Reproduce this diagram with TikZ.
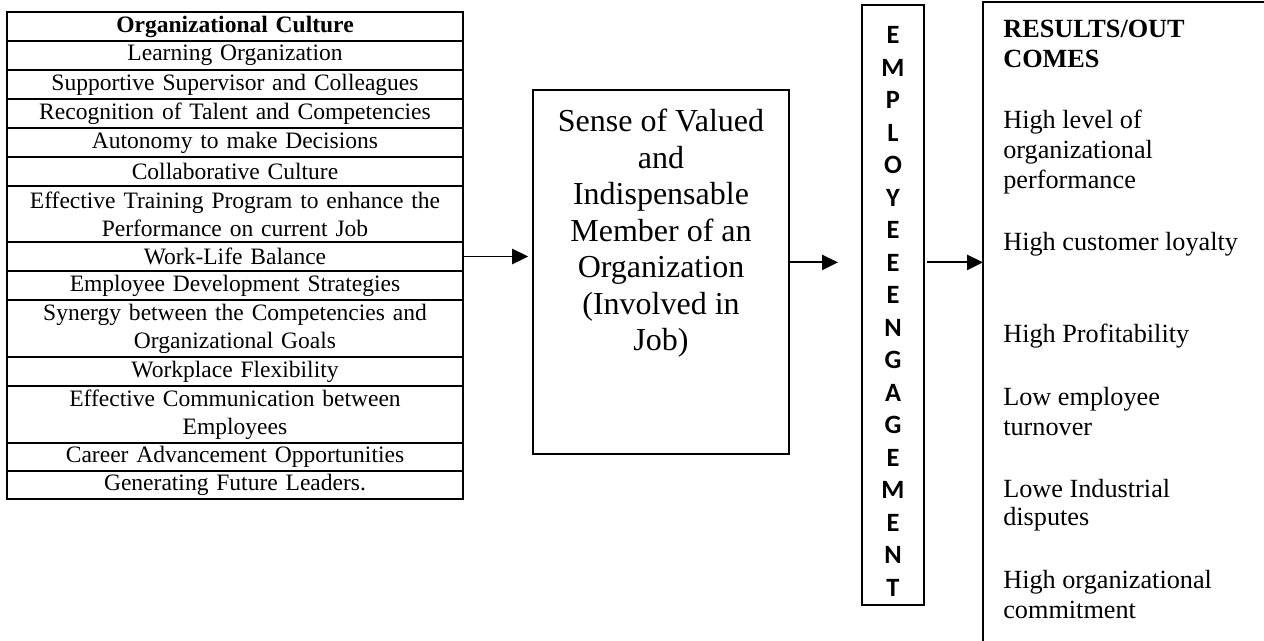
\documentclass[tikz,border=0pt]{standalone}
\usepackage{fontspec}
\setmainfont{Liberation Serif}
\newfontfamily\letterfont{Carlito}
\usetikzlibrary{positioning, arrows.meta}
\newlength\pxu
\setlength\pxu{0.625pt}

\begin{document}
\begin{tikzpicture}[
        % one unit is one pixel of the layout
        x=\pxu, y=-\pxu,
        % Define styles for the nodes
        cell/.style={draw, line width=1pt, outer sep=0pt, inner xsep=2pt, inner ysep=0pt, text width=281pt, align=center, font=\fontsize{14.7}{17.5}\selectfont},
        one_row/.style={cell, minimum height=29\pxu},
        two_row/.style={cell, minimum height=56\pxu},
        frame_box/.style={draw, line width=1.2pt, outer sep=0pt, inner sep=0pt},
        letter/.style={inner sep=0pt, font=\letterfont\bfseries\fontsize{16.5}{19}\selectfont},
        out_text/.style={anchor=base west, inner sep=0pt, font=\fontsize{16.4}{18.4}\selectfont},
        arrow/.style={-{Triangle[length=10pt, width=9.5pt]}, line width=1.2pt}
    ]

    \clip (0,0) rectangle (1264,640);

    % Organizational culture table
    \node (culture) [one_row, anchor=north west, font=\bfseries\fontsize{14.7}{17.5}\selectfont] at (7,12) {Organizational Culture};
    \node (learning) [one_row, below=0pt of culture] {Learning Organization};
    \node (support) [one_row, below=0pt of learning] {Supportive Supervisor and Colleagues};
    \node (talent) [one_row, below=0pt of support] {Recognition of Talent and Competencies};
    \node (autonomy) [one_row, below=0pt of talent] {Autonomy to make Decisions};
    \node (collab) [one_row, below=0pt of autonomy] {Collaborative Culture};
    \node (training) [two_row, below=0pt of collab] {Effective Training Program to enhance the\\Performance on current Job};
    \node (worklife) [one_row, below=0pt of training] {Work-Life Balance};
    \node (develop) [one_row, below=0pt of worklife] {Employee Development Strategies};
    \node (synergy) [two_row, minimum height=57\pxu, below=0pt of develop] {Synergy between the Competencies and\\Organizational Goals};
    \node (flexible) [one_row, below=0pt of synergy] {Workplace Flexibility};
    \node (communic) [two_row, minimum height=57\pxu, below=0pt of flexible] {Effective Communication between\\Employees};
    \node (career) [one_row, minimum height=28\pxu, below=0pt of communic] {Career Advancement Opportunities};
    \node (leaders) [one_row, minimum height=28\pxu, below=0pt of career] {Generating Future Leaders.};

    % Sense of valued member block
    \node (sense) [frame_box, anchor=north west, minimum width=256\pxu, minimum height=364\pxu] at (533,90) {};
    \node (sense_txt) [anchor=north, inner sep=0pt, align=center, font=\fontsize{20}{22.8}\selectfont] at (661,109) {Sense of Valued\\and\\Indispensable\\Member of an\\Organization\\(Involved in\\Job)};

    % Employee engagement column
    \node (engage) [frame_box, line width=1pt, anchor=north west, minimum width=62\pxu, minimum height=600\pxu] at (862,5) {};
    \foreach \l [count=\i] in {E,M,P,L,O,Y,E,E,E,N,G,A,G,E,M,E,N,T}
        \node (lt\i) [letter] at (893,{35+32.5*(\i-1)}) {\l};

    % Results / outcomes block
    \node (results) [frame_box, anchor=north west, minimum width=400\pxu, minimum height=700\pxu] at (983,2) {};
    \node (res_head1) [out_text, font=\bfseries\fontsize{16.4}{18.4}\selectfont] at (1003,37) {RESULTS/OUT};
    \node (res_head2) [out_text, font=\bfseries\fontsize{16.4}{18.4}\selectfont] at (1003,67) {COMES};
    \foreach \y/\txt [count=\i] in {128/High level of, 158/organizational, 188/performance, 250/High customer loyalty, 342/High Profitability, 405/Low employee, 435/turnover, 497/Lowe Industrial, 525/disputes, 588/High organizational, 618/commitment}
        \node (out\i) [out_text] at (1003,\y) {\txt};

    % Connectors
    \draw [arrow, shorten >=3pt] (worklife.east) -- (worklife.east -| sense.west);
    \draw [arrow, shorten >=15pt] ([yshift=6pt]sense.east) -- ([yshift=6pt]sense.east -| engage.west);
    \draw [arrow, shorten <=2pt] ([yshift=6pt]sense.east -| engage.east) -- ([yshift=6pt]sense.east -| results.west);

\end{tikzpicture}
\end{document}
